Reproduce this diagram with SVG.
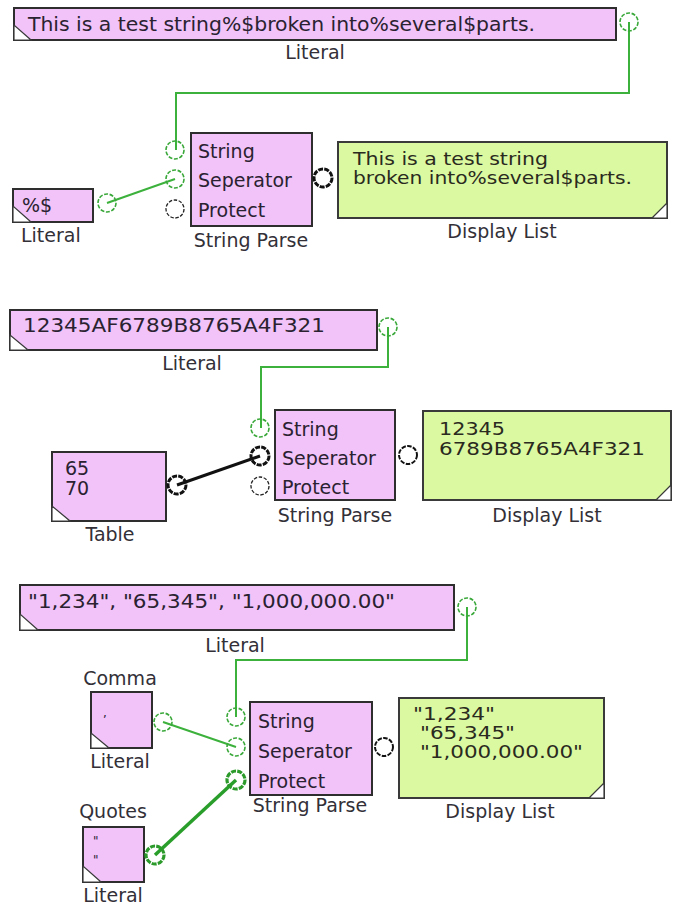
<svg xmlns="http://www.w3.org/2000/svg" width="673" height="911" viewBox="0 0 673 911">
<style>
  .lit{fill:#f1c3f9;stroke:#2e2e2e;stroke-width:2}
  .disp{fill:#dbf9a0;stroke:#3a3a3a;stroke-width:2}
  .fold{fill:#fff;stroke:#3a3a3a;stroke-width:1.2}
  .t{font-family:"DejaVu Sans",Verdana,sans-serif;font-size:19px;fill:#2a2230}
  .td{font-family:"DejaVu Sans",Verdana,sans-serif;font-size:17px;fill:#2a2a20}
  .lbl{font-family:"DejaVu Sans",Verdana,sans-serif;font-size:19px;fill:#333038}
  .mid{text-anchor:middle}
  .pg{fill:none;stroke:#3aa83a;stroke-width:1.6;stroke-dasharray:4 1.6}
  .pgt{fill:none;stroke:#2b9a2b;stroke-width:3.2;stroke-dasharray:5 1.2}
  .pk{fill:none;stroke:#222;stroke-width:1.3;stroke-dasharray:3.5 1.6}
  .pkm{fill:none;stroke:#111;stroke-width:2;stroke-dasharray:4.5 1.4}
  .pkt{fill:none;stroke:#111;stroke-width:3;stroke-dasharray:5 1.2}
  .wg{fill:none;stroke:#3cb13c;stroke-width:2}
  .wgt{fill:none;stroke:#2a9e2a;stroke-width:3.5}
  .wkt{fill:none;stroke:#111;stroke-width:3}
</style>
<defs>
  <circle id="port" r="9"/>
</defs>

<g id="connectors">
  <path class="wg" d="M629,22 V93 H176 V150"/>
  <path class="wg" d="M107,203 L175,179"/>
  <path class="wg" d="M388,327 V367 H261 V428"/>
  <path class="wkt" d="M177,485 L260,456"/>
  <path class="wg" d="M467,607 V660 H236 V717"/>
  <path class="wg" d="M163,722 L236,747"/>
  <path class="wgt" d="M155,855 L236,780"/>
</g>

<!-- Section 1 -->
<g id="literal1">
  <rect class="lit" x="14" y="8" width="602" height="32"/>
  <path class="fold" d="M14,25 L14,40 L31,40 Z"/>
  <text class="t" x="28" y="31" textLength="507" lengthAdjust="spacingAndGlyphs">This is a test string%$broken into%several$parts.</text>
  <text class="lbl mid" x="315" y="59">Literal</text>
  <use href="#port" class="pg" x="629" y="22"/>
</g>
<g id="literal2">
  <rect class="lit" x="13" y="189" width="80" height="33"/>
  <path class="fold" d="M13,206 L13,222 L31,222 Z"/>
  <text class="t" x="22" y="212">%$</text>
  <text class="lbl" x="21" y="242">Literal</text>
  <use href="#port" class="pg" x="107" y="203"/>
</g>
<g id="stringparse1">
  <rect class="lit" x="191" y="133" width="121" height="93"/>
  <text class="t" x="198" y="158">String</text>
  <text class="t" x="198" y="187">Seperator</text>
  <text class="t" x="198" y="217">Protect</text>
  <text class="lbl mid" x="251" y="247">String Parse</text>
  <use href="#port" class="pg" x="175" y="150"/>
  <use href="#port" class="pg" x="175" y="179"/>
  <use href="#port" class="pk" x="175" y="209"/>
  <use href="#port" class="pkt" x="323" y="178"/>
</g>
<g id="display1">
  <rect class="disp" x="338" y="142" width="329" height="76"/>
  <path class="fold" d="M667,203 L667,218 L652,218 Z"/>
  <text class="td" x="353" y="165" textLength="195" lengthAdjust="spacingAndGlyphs">This is a test string</text>
  <text class="td" x="353" y="184" textLength="279" lengthAdjust="spacingAndGlyphs">broken into%several$parts.</text>
  <text class="lbl mid" x="502" y="238">Display List</text>
</g>

<!-- Section 2 -->
<g id="literal3">
  <rect class="lit" x="10" y="310" width="367" height="40"/>
  <path class="fold" d="M10,335 L10,350 L28,350 Z"/>
  <text class="t" x="23" y="332" textLength="302" lengthAdjust="spacingAndGlyphs">12345AF6789B8765A4F321</text>
  <text class="lbl mid" x="192" y="370">Literal</text>
  <use href="#port" class="pg" x="388" y="327"/>
</g>
<g id="table1">
  <rect class="lit" x="52" y="452" width="114" height="69"/>
  <path class="fold" d="M52,506 L52,521 L70,521 Z"/>
  <text class="t" x="65" y="475">65</text>
  <text class="t" x="65" y="495">70</text>
  <text class="lbl mid" x="110" y="541">Table</text>
  <use href="#port" class="pkt" x="177" y="485"/>
</g>
<g id="stringparse2">
  <rect class="lit" x="275" y="410" width="120" height="90"/>
  <text class="t" x="282" y="436">String</text>
  <text class="t" x="282" y="465">Seperator</text>
  <text class="t" x="282" y="494">Protect</text>
  <text class="lbl mid" x="335" y="522">String Parse</text>
  <use href="#port" class="pg" x="260" y="428"/>
  <use href="#port" class="pkt" x="260" y="456"/>
  <use href="#port" class="pk" x="260" y="486"/>
  <use href="#port" class="pkm" x="408" y="455"/>
</g>
<g id="display2">
  <rect class="disp" x="423" y="411" width="248" height="89"/>
  <path class="fold" d="M671,485 L671,500 L656,500 Z"/>
  <text class="td" x="439" y="435" textLength="66" lengthAdjust="spacingAndGlyphs">12345</text>
  <text class="td" x="439" y="455" textLength="206" lengthAdjust="spacingAndGlyphs">6789B8765A4F321</text>
  <text class="lbl mid" x="547" y="522">Display List</text>
</g>

<!-- Section 3 -->
<g id="literal4">
  <rect class="lit" x="20" y="585" width="434" height="45"/>
  <path class="fold" d="M20,614 L20,630 L38,630 Z"/>
  <text class="t" x="28" y="608" textLength="367" lengthAdjust="spacingAndGlyphs">"1,234", "65,345", "1,000,000.00"</text>
  <text class="lbl mid" x="235" y="652">Literal</text>
  <use href="#port" class="pg" x="467" y="607"/>
</g>
<g id="literal5">
  <rect class="lit" x="91" y="692" width="61" height="56"/>
  <path class="fold" d="M91,733 L91,748 L109,748 Z"/>
  <text class="t" x="103" y="717" style="font-size:12px">,</text>
  <text class="lbl mid" x="120" y="685">Comma</text>
  <text class="lbl mid" x="120" y="768">Literal</text>
  <use href="#port" class="pg" x="163" y="722"/>
</g>
<g id="literal6">
  <rect class="lit" x="83" y="827" width="61" height="55"/>
  <path class="fold" d="M83,866 L83,882 L101,882 Z"/>
  <text class="t" x="93" y="845" style="font-size:12px">"</text>
  <text class="t" x="93" y="864" style="font-size:12px">"</text>
  <text class="lbl mid" x="113" y="818">Quotes</text>
  <text class="lbl mid" x="113" y="902">Literal</text>
  <use href="#port" class="pgt" x="155" y="855"/>
</g>
<g id="stringparse3">
  <rect class="lit" x="250" y="702" width="122" height="93"/>
  <text class="t" x="258" y="728">String</text>
  <text class="t" x="258" y="758">Seperator</text>
  <text class="t" x="258" y="788">Protect</text>
  <text class="lbl mid" x="310" y="812">String Parse</text>
  <use href="#port" class="pg" x="236" y="717"/>
  <use href="#port" class="pg" x="236" y="747"/>
  <use href="#port" class="pgt" x="236" y="780"/>
  <use href="#port" class="pkm" x="384" y="747"/>
</g>
<g id="display3">
  <rect class="disp" x="399" y="698" width="205" height="100"/>
  <path class="fold" d="M604,783 L604,798 L589,798 Z"/>
  <text class="td" x="413" y="720" textLength="82" lengthAdjust="spacingAndGlyphs">"1,234"</text>
  <text class="td" x="420" y="739" textLength="95" lengthAdjust="spacingAndGlyphs">"65,345"</text>
  <text class="td" x="420" y="758" textLength="163" lengthAdjust="spacingAndGlyphs">"1,000,000.00"</text>
  <text class="lbl mid" x="500" y="818">Display List</text>
</g>
</svg>
